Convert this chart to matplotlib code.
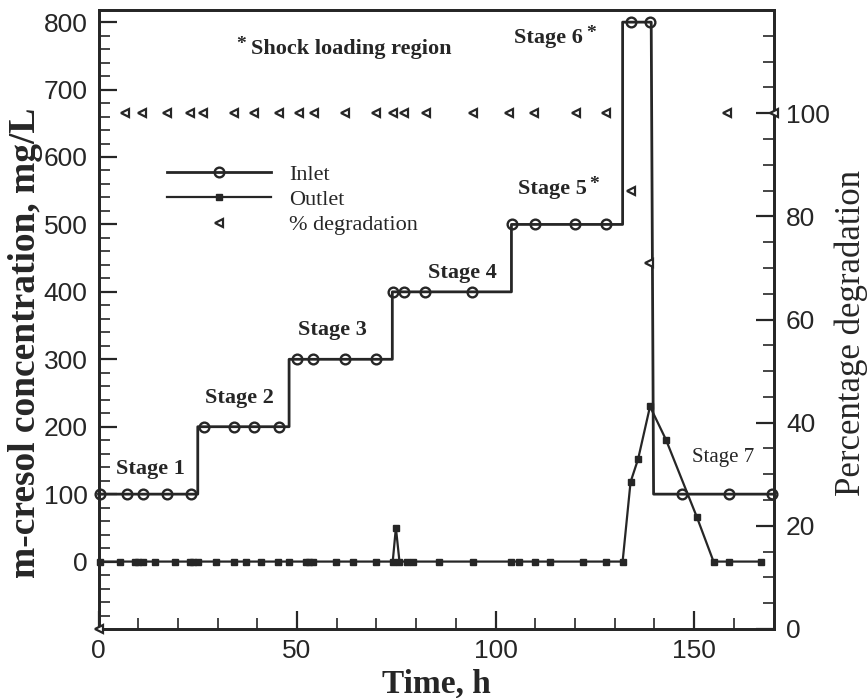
import matplotlib
matplotlib.use("Agg")
import matplotlib.pyplot as plt
from matplotlib import font_manager
from matplotlib.ticker import MultipleLocator, FixedLocator
from matplotlib.lines import Line2D

# ---- data -------------------------------------------------------------
# inlet feed concentration profile (stage changes), mg/L
feed_t = [0, 25.0, 25.0, 48.0, 48.0, 74.0, 74.0, 104.0, 104.0, 132.0, 132.0, 139.2, 139.8, 170.0]
feed_c = [100, 100, 200, 200, 300, 300, 400, 400, 500, 500, 800, 800, 100, 100]

# inlet samples
inlet_t = [0.4, 7.3, 11.1, 17.3, 23.4,
           26.5, 34.1, 39.2, 45.4,
           49.9, 54.1, 62.2, 70.0,
           74.1, 77.0, 82.3, 94.0,
           104.1, 109.9, 120.0, 127.9,
           134.0, 138.8,
           147.0, 158.7, 169.5]
inlet_c = [100, 100, 100, 100, 100,
           200, 200, 200, 200,
           300, 300, 300, 300,
           400, 400, 400, 400,
           500, 500, 500, 500,
           800, 800,
           100, 100, 100]

# outlet samples, mg/L
outlet_t = [0.4, 5.4, 9.2, 10.0, 11.3, 14.2, 19.2, 23.0, 23.8, 25.1,
            29.7, 34.0, 37.2, 41.0, 45.2, 48.1, 52.3, 53.1, 54.1, 59.8,
            64.0, 69.9, 74.1, 74.9, 75.8, 77.8, 79.1, 85.8, 94.2, 103.8,
            105.9, 109.9, 113.6, 122.0, 127.7, 132.0, 134.0, 135.9, 138.9,
            142.9, 150.7, 154.9, 158.8, 166.9]
outlet_c = [0, 0, 0, 0, 0, 0, 0, 0, 0, 0,
            0, 0, 0, 0, 0, 0, 0, 0, 0, 0,
            0, 0, 0, 50, 0, 0, 0, 0, 0, 0,
            0, 0, 0, 0, 0, 0, 118, 152, 230,
            181, 66, 0, 0, 0]

# percentage degradation
deg_t = [0, 6.7, 11.0, 17.3, 23.0, 26.3, 34.1, 39.1, 45.4, 50.4, 54.2,
         62.0, 70.0, 74.1, 77.0, 82.5, 94.2, 103.4, 109.7, 120.2, 127.9,
         134.0, 138.6, 158.2, 170.0]
deg_p = [0, 100, 100, 100, 100, 100, 100, 100, 100, 100, 100,
         100, 100, 100, 100, 100, 100, 100, 100, 100, 100,
         85, 71, 100, 100]

# stage annotations
stage_labels = ["Stage 1", "Stage 2", "Stage 3", "Stage 4", "Stage 5", "Stage 6"]
stage_x = [13.0, 35.5, 58.8, 91.7, 114.2, 113.4]
stage_y = [138, 243, 343, 428, 552, 776]
starred = [False, False, False, False, True, True]

# ---- fonts ------------------------------------------------------------
def pick(families):
    for f in families:
        try:
            font_manager.findfont(font_manager.FontProperties(family=f),
                                  fallback_to_default=False)
            return f
        except Exception:
            continue
    return "DejaVu Sans"

tick_font = pick(["Liberation Sans Narrow", "Liberation Sans", "DejaVu Sans"])
serif = pick(["Liberation Serif", "DejaVu Serif"])

ink = "#262626"

fig = plt.figure(figsize=(8.68, 6.98), dpi=100)
ax = fig.add_axes([98.5 / 868, 69 / 698, 675 / 868, 619 / 698])
ax2 = ax.twinx()

ax.set_xlim(0, 170)
ax.set_ylim(-100, 818)
ax2.set_ylim(0, 120)

# inlet: stepped feed line with sample markers
ax.plot(feed_t, feed_c, color=ink, lw=2.0, clip_on=False, zorder=3)
ax.plot(inlet_t, inlet_c, ls="none", marker="o", ms=7, mfc="none",
        mec=ink, mew=1.7, clip_on=False, zorder=4)
inlet_handle = Line2D([], [], color=ink, lw=2.0, marker="o", ms=7,
                      mfc="none", mec=ink, mew=1.7)

# outlet
ax.plot(outlet_t, outlet_c, color=ink, lw=1.6, marker="s", ms=5,
        mfc=ink, mec=ink, clip_on=False, zorder=4)
outlet_handle = Line2D([], [], color=ink, lw=1.6, marker="s", ms=5,
                       mfc=ink, mec=ink)

# degradation on the right axis
ax2.plot(deg_t, deg_p, ls="none", marker="<", ms=5.5, mfc="white",
         mec=ink, mew=1.6, clip_on=False, zorder=5)
deg_handle = Line2D([], [], ls="none", marker="<", ms=5.5, mfc="white",
                    mec=ink, mew=1.6)

# ---- axes styling -------------------------------------------------------
for a in (ax, ax2):
    for s in a.spines.values():
        s.set_linewidth(2.0)
        s.set_color(ink)

ax.xaxis.set_major_locator(MultipleLocator(50))
ax.xaxis.set_minor_locator(MultipleLocator(10))
ax.yaxis.set_major_locator(FixedLocator(list(range(0, 801, 100))))
ax.yaxis.set_minor_locator(MultipleLocator(20))
ax2.yaxis.set_major_locator(FixedLocator(list(range(0, 101, 20))))
ax2.yaxis.set_minor_locator(MultipleLocator(5))

ax.tick_params(axis="both", which="both", direction="in", color=ink,
               top=False, right=False, labelsize=19, pad=8)
ax.tick_params(which="major", length=13, width=1.6)
ax.tick_params(which="minor", length=8, width=1.2)
ax.tick_params(axis="x", pad=7)
ax2.tick_params(axis="y", which="both", direction="in", color=ink,
                labelsize=19, pad=9)
ax2.tick_params(which="major", length=13, width=1.6)
ax2.tick_params(which="minor", length=8, width=1.2)

for lab in ax.get_xticklabels() + ax.get_yticklabels() + ax2.get_yticklabels():
    lab.set_family(tick_font)
    lab.set_color(ink)

ax.set_xlabel("Time, h", family=serif, weight="bold", fontsize=24,
              color=ink, labelpad=4)
ax.set_ylabel("m-cresol concentration, mg/L", family=serif, weight="bold",
              fontsize=27, color=ink)
ax.yaxis.set_label_coords(-0.082, 0.462)
ax2.set_ylabel("Percentage degradation", family=serif, fontsize=25,
               color=ink)
ax2.yaxis.set_label_coords(1.091, 0.478)

# ---- annotations --------------------------------------------------------
for lab, x, y, st in zip(stage_labels, stage_x, stage_y, starred):
    t = ax.text(x, y, lab, family=serif, weight="bold", fontsize=16,
                color=ink, ha="center", va="center")
    if st:
        ax.annotate("*", xy=(1, 1), xycoords=t, xytext=(2, -4),
                    textcoords="offset points", family=serif, weight="bold",
                    fontsize=14, color=ink, ha="left", va="center")

ax.text(157.4, 155, "Stage 7", family=serif, fontsize=15, color=ink,
        ha="center", va="center")

shock = ax.text(63.7, 760, "Shock loading region", family=serif,
                weight="bold", fontsize=16, color=ink, ha="center", va="center")
ax.annotate("*", xy=(0, 1), xycoords=shock, xytext=(-4, -4),
            textcoords="offset points", family=serif, weight="bold",
            fontsize=14, color=ink, ha="right", va="center")

leg = ax2.legend([inlet_handle, outlet_handle, deg_handle],
                 ["Inlet", "Outlet", "% degradation"],
                 loc="upper left", bbox_to_anchor=(167 / 868, 1 - 164 / 698),
                 bbox_transform=fig.transFigure, frameon=False, numpoints=1,
                 handlelength=4.7, handletextpad=0.8, labelspacing=0.22,
                 borderpad=0, borderaxespad=0,
                 prop={"family": serif, "size": 16})
for txt in leg.get_texts():
    txt.set_color(ink)

fig.savefig("out.png", dpi=100)
